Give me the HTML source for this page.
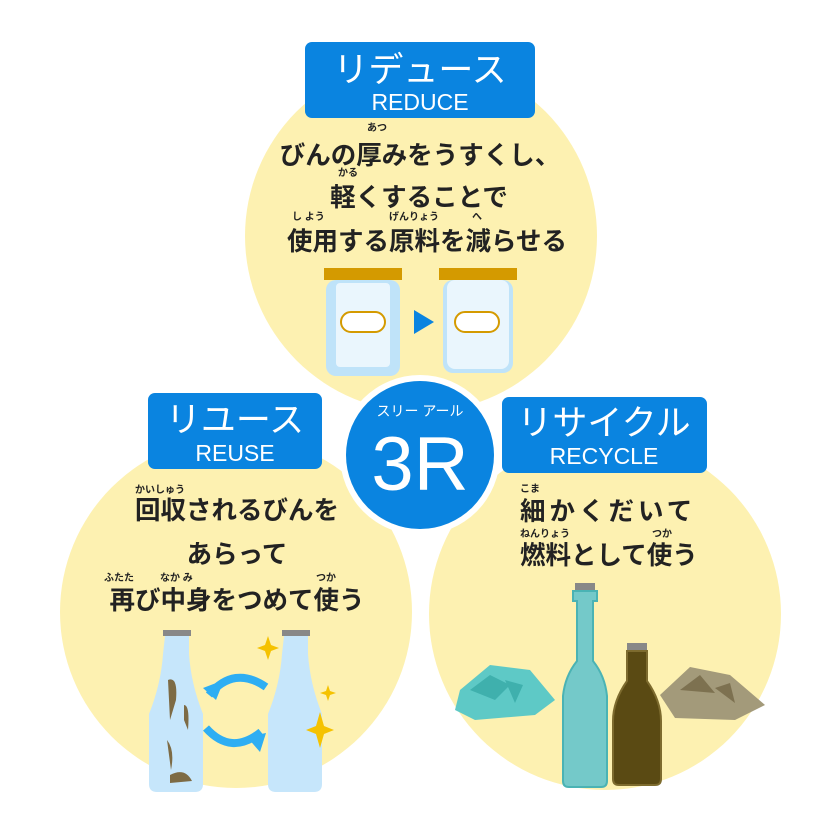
<!DOCTYPE html>
<html><head><meta charset="utf-8"><style>
html,body{margin:0;padding:0;background:#fff;}
svg{display:block;}
text{font-family:"Liberation Sans","Noto Sans CJK JP",sans-serif;}
.m{font-size:25.5px;font-weight:bold;fill:#222;}
.r{font-size:10px;fill:#222;font-weight:bold;}
.t{fill:#fff;font-size:35px;}
.e{fill:#fff;font-size:23px;}
</style></head><body>
<svg width="840" height="840" viewBox="0 0 840 840" xmlns="http://www.w3.org/2000/svg">
<circle cx="421" cy="236" r="176" fill="#fdf1b1"/>
<circle cx="236" cy="612" r="176" fill="#fdf1b1"/>
<circle cx="605" cy="614" r="176" fill="#fdf1b1"/>
<circle cx="420" cy="455" r="80" fill="#fff"/>
<circle cx="420" cy="455" r="74" fill="#0a84e0"/>
<text x="420" y="416" text-anchor="middle" fill="#fff" font-size="14">スリー アール</text>
<text x="420" y="490" text-anchor="middle" fill="#fff" font-size="76">3R</text>

<!-- boxes -->
<rect x="305" y="42" width="230" height="76" rx="7" fill="#0a84e0"/>
<text x="420" y="82" text-anchor="middle" class="t">リデュース</text>
<text x="420" y="110" text-anchor="middle" class="e">REDUCE</text>
<rect x="148" y="393" width="174" height="76" rx="7" fill="#0a84e0"/>
<text x="235" y="432" text-anchor="middle" class="t">リユース</text>
<text x="235" y="461" text-anchor="middle" class="e">REUSE</text>
<rect x="502" y="397" width="205" height="76" rx="7" fill="#0a84e0"/>
<text x="604" y="435" text-anchor="middle" class="t">リサイクル</text>
<text x="604" y="464" text-anchor="middle" class="e">RECYCLE</text>

<!-- reduce text -->
<text x="367" y="131" class="r">あつ</text>
<text x="420" y="164" text-anchor="middle" class="m">びんの厚みをうすくし、</text>
<text x="338" y="176" class="r">かる</text>
<text x="419" y="206" text-anchor="middle" class="m">軽くすることで</text>
<text x="292" y="220" class="r">し よう</text>
<text x="389" y="220" class="r">げんりょう</text>
<text x="472" y="220" class="r">へ</text>
<text x="427" y="250" text-anchor="middle" class="m">使用する原料を減らせる</text>

<!-- jars -->
<rect x="324" y="268" width="78" height="12" fill="#d49a00"/>
<rect x="326" y="280" width="74" height="96" rx="10" fill="#bfe3f9"/>
<rect x="336" y="283" width="54" height="84" rx="4" fill="#eaf6fd"/>
<rect x="341" y="312" width="44" height="20" rx="10" fill="#fff" stroke="#d49a00" stroke-width="2"/>
<polygon points="414,310 434,322 414,334" fill="#0a84e0"/>
<rect x="439" y="268" width="78" height="12" fill="#d49a00"/>
<rect x="443" y="280" width="70" height="93" rx="10" fill="#bfe3f9"/>
<rect x="447" y="280" width="62" height="89" rx="8" fill="#eaf6fd"/>
<rect x="455" y="312" width="44" height="20" rx="10" fill="#fff" stroke="#d49a00" stroke-width="2"/>

<!-- reuse text -->
<text x="135" y="493" class="r">かいしゅう</text>
<text x="237" y="519" text-anchor="middle" class="m">回収されるびんを</text>
<text x="237" y="563" text-anchor="middle" class="m">あらって</text>
<text x="104" y="581" class="r">ふたた</text>
<text x="160" y="581" class="r">なか み</text>
<text x="316" y="581" class="r">つか</text>
<text x="237" y="609" text-anchor="middle" class="m">再び中身をつめて使う</text>

<!-- reuse bottles -->
<rect x="163" y="630" width="28" height="6" fill="#888"/>
<path d="M165 636 h24 v18 q2 30 14 60 v70 q0 8 -8 8 h-38 q-8 0 -8 -8 v-70 q12 -30 14 -60z" fill="#c6e6fb"/>
<path d="M168 680 q10 -4 8 20 l-6 20 z M184 705 q6 0 4 25 l-4 -10z M167 740 q8 10 4 30z M170 775 q15 -8 22 6 l-22 2z" fill="#7d6b45"/>
<rect x="282" y="630" width="28" height="6" fill="#888"/>
<path d="M284 636 h24 v18 q2 30 14 60 v70 q0 8 -8 8 h-38 q-8 0 -8 -8 v-70 q12 -30 14 -60z" fill="#c6e6fb"/>
<path d="M209 695 q25 -30 57 -8" stroke="#2eaef3" stroke-width="8" fill="none"/>
<polygon points="203,688 224,680 216,700" fill="#2eaef3"/>
<path d="M206 728 q25 28 55 4" stroke="#2eaef3" stroke-width="8" fill="none"/>
<polygon points="266,733 260,752 247,737" fill="#2eaef3"/>
<path d="M320 712 l4 14 l10 4 l-10 4 l-4 14 l-4 -14 l-10 -4 l10 -4z" fill="#f5c200"/>
<path d="M268 636 l3 9 l8 3 l-8 3 l-3 9 l-3 -9 l-8 -3 l8 -3z" fill="#f5c200"/>
<path d="M328 685 l2 6 l6 2 l-6 2 l-2 6 l-2 -6 l-6 -2 l6 -2z" fill="#f5c200"/>

<!-- recycle text -->
<text x="520" y="492" class="r">こま</text>
<text x="520" y="520" class="m" letter-spacing="4">細かくだいて</text>
<text x="520" y="537" class="r">ねんりょう</text>
<text x="652" y="537" class="r">つか</text>
<text x="520" y="564" class="m">燃料として使う</text>

<!-- recycle bottles -->
<path d="M460 690 l30 -25 l40 5 l25 30 l-20 15 l-60 5 l-20 -10z" fill="#5ec9c6"/>
<path d="M470 690 l20 -15 l20 10 l-15 15z M505 680 l18 5 l-8 18z" fill="#3fb0ad"/>
<path d="M660 695 l30 -28 l40 8 l35 30 l-30 15 l-60 -2z" fill="#a39a7a"/>
<path d="M680 690 l20 -15 l15 18z M715 688 l15 -5 l5 20z" fill="#7d7150"/>
<rect x="575" y="583" width="20" height="8" fill="#888"/>
<path d="M573 591 h24 v10 h-4 v60 q12 15 14 35 v85 q0 6 -6 6 h-32 q-6 0 -6 -6 v-85 q2 -20 14 -35 v-60 h-4z" fill="#74c9c9" stroke="#4ab3b4" stroke-width="2"/>
<rect x="627" y="643" width="20" height="8" fill="#888"/>
<path d="M627 651 h20 v30 q14 20 14 40 v58 q0 6 -6 6 h-36 q-6 0 -6 -6 v-58 q0 -20 14 -40z" fill="#5a4a13" stroke="#7d6b2e" stroke-width="2"/>
</svg>
</body></html>
